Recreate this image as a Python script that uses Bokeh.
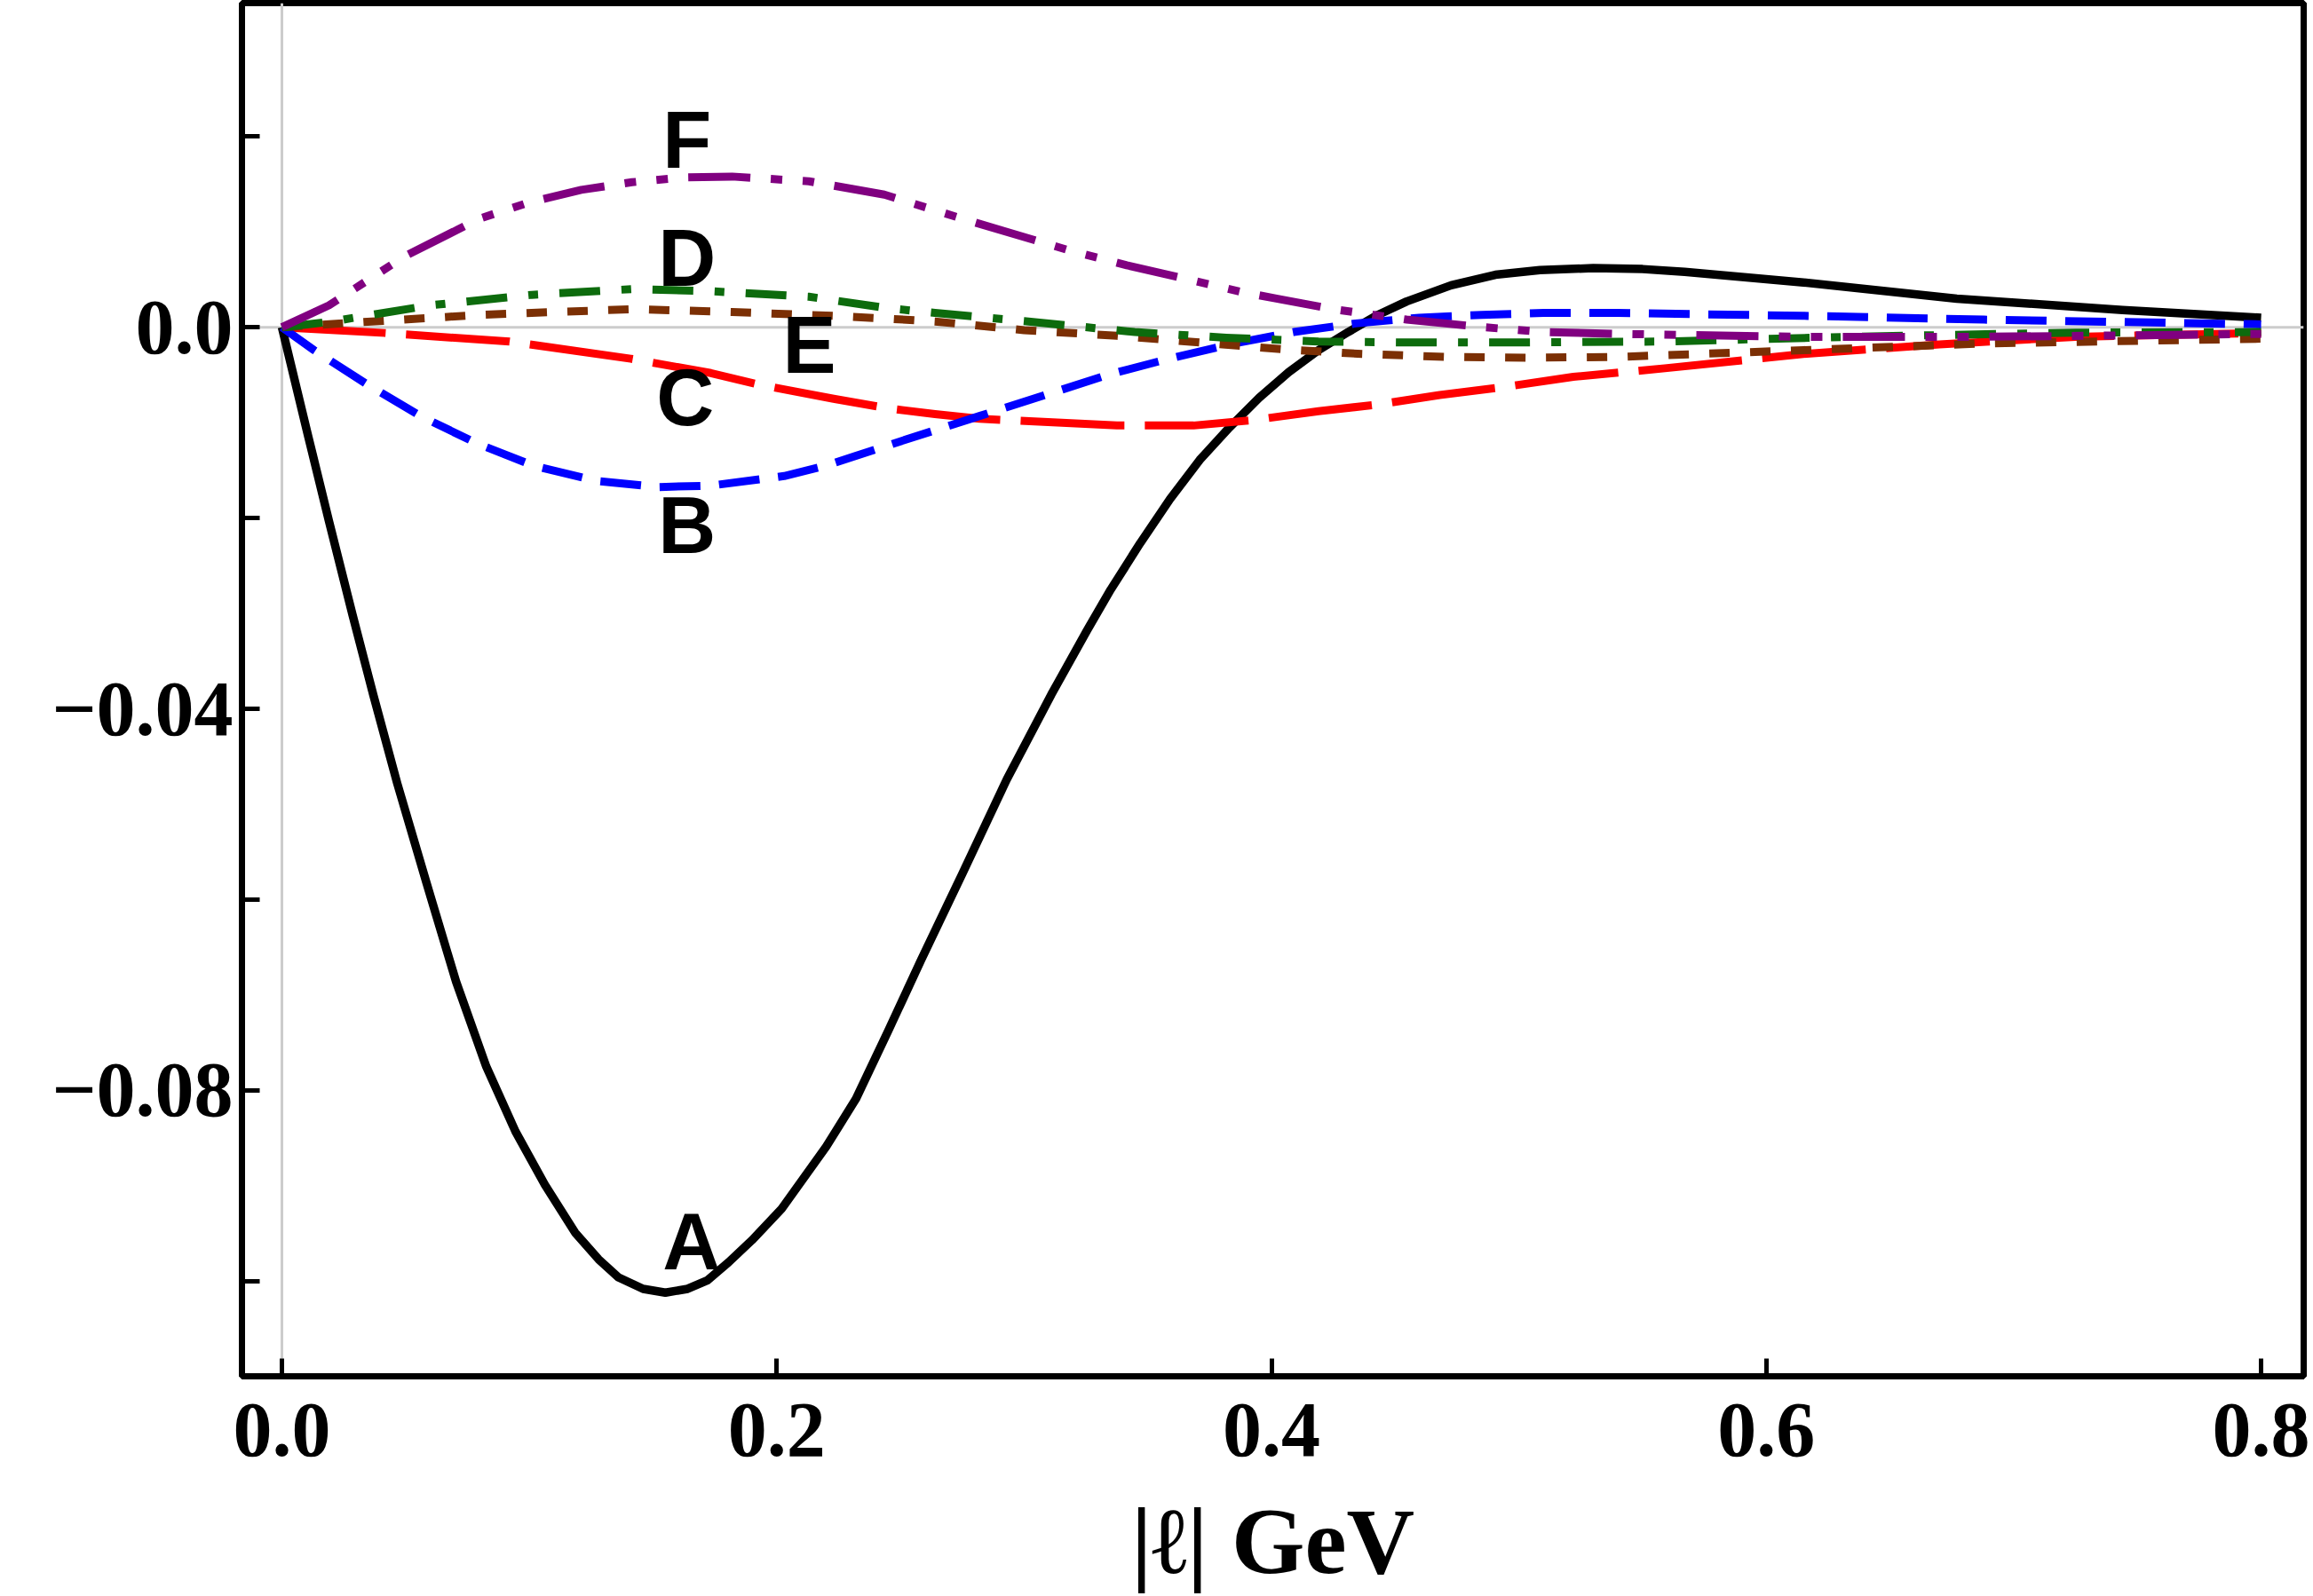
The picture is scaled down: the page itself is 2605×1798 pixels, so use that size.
from bokeh.plotting import figure
from bokeh.models import Range1d, FixedTicker, Span, ColumnDataSource
from bokeh.core.properties import value
from bokeh.embed import file_html
from bokeh.resources import INLINE

# ---------------- data ----------------
a_x = [0, 0.0107, 0.019, 0.0286, 0.037, 0.0466, 0.0585, 0.0704, 0.0826, 0.0944, 0.1063,
       0.1185, 0.128, 0.136, 0.146, 0.155, 0.164, 0.172, 0.1806, 0.19, 0.202, 0.22, 0.232, 0.245, 0.2584,
       0.275, 0.293, 0.311, 0.3254, 0.335, 0.347, 0.359, 0.371, 0.383, 0.395, 0.407, 0.419,
       0.431, 0.443, 0.4546, 0.4726, 0.4905, 0.5085, 0.53, 0.55, 0.567, 0.615, 0.677, 0.744, 0.8]
a_y = [0, -0.0115, -0.0203, -0.0302, -0.0386, -0.0478, -0.0583, -0.0686, -0.0775, -0.0843, -0.0899,
       -0.0949, -0.0977, -0.0996, -0.1008, -0.1012, -0.1008, -0.0999, -0.098, -0.0957, -0.0924, -0.0859, -0.0809,
       -0.0738, -0.0663, -0.0573, -0.0474, -0.0385, -0.0318, -0.0275, -0.0226, -0.018, -0.0139, -0.0105,
       -0.0074, -0.0047, -0.0024, -0.0005, 0.0013, 0.0027, 0.0044, 0.0055, 0.006, 0.0062, 0.0061, 0.0058,
       0.0047, 0.003, 0.0018, 0.001]

b_x = [0, 0.013, 0.0345, 0.056, 0.079, 0.1016, 0.1268, 0.152, 0.1734, 0.203, 0.22, 0.2435,
       0.282, 0.335, 0.36, 0.385, 0.409, 0.434, 0.4596, 0.485, 0.51, 0.54, 0.615, 0.688, 0.8]
b_y = [0, -0.0024, -0.006, -0.0093, -0.0122, -0.0145, -0.0161, -0.01675, -0.0166, -0.0156, -0.0145, -0.0125,
       -0.0093, -0.0049, -0.0032, -0.0017, -0.0005, 0.0004, 0.001, 0.0013, 0.0015, 0.0015, 0.0012, 0.0008, 0.0003]

c_x = [0, 0.0417, 0.092, 0.141, 0.1734, 0.1925, 0.223, 0.245, 0.264, 0.282, 0.3375, 0.3685,
       0.3936, 0.419, 0.443, 0.468, 0.493, 0.522, 0.559, 0.615, 0.67, 0.725, 0.8]
c_y = [0, -0.0006, -0.0015, -0.0033, -0.0048, -0.006, -0.0075, -0.0085, -0.0091, -0.0096, -0.0103, -0.0103,
       -0.0097, -0.0088, -0.0081, -0.0071, -0.0063, -0.0052, -0.0043, -0.0028, -0.0018, -0.001, -0.0006]

d_x = [0, 0.019, 0.06, 0.101, 0.1415, 0.172, 0.213, 0.245, 0.264, 0.3, 0.3447, 0.3817,
       0.419, 0.457, 0.494, 0.559, 0.633, 0.725, 0.8]
d_y = [0, 0.00056, 0.0023, 0.0034, 0.004, 0.0038, 0.0032, 0.002, 0.0015, 0.00065, -0.0005, -0.0011,
       -0.0015, -0.0016, -0.0016, -0.0015, -0.001, -0.00056, -0.0005]

e_x = [0, 0.0395, 0.08, 0.1415, 0.182, 0.223, 0.245, 0.264, 0.3, 0.3375, 0.371, 0.404,
       0.4366, 0.47, 0.504, 0.541, 0.615, 0.688, 0.8]
e_y = [0, 0.00065, 0.0013, 0.0019, 0.0016, 0.0012, 0.0009, 0.0006, -0.0003, -0.0009, -0.0016, -0.0023,
       -0.0028, -0.0031, -0.0032, -0.0031, -0.0024, -0.0017, -0.0012]

f_x = [0, 0.019, 0.05, 0.08, 0.1, 0.121, 0.1415, 0.162, 0.182, 0.213, 0.2435, 0.276, 0.319, 0.3415,
       0.365, 0.388, 0.402, 0.425, 0.4546, 0.486, 0.51, 0.541, 0.615, 0.688, 0.8]
f_y = [0, 0.0023, 0.0075, 0.0114, 0.0131, 0.0144, 0.0152, 0.0157, 0.0158, 0.0153, 0.0139, 0.0113, 0.008,
       0.0065, 0.0051, 0.0037, 0.003, 0.0019, 0.0008, 0.0, -0.0005, -0.0007, -0.001, -0.001, -0.0007]

curve_names = ["A", "B", "C", "D", "E", "F"]
label_x = [0.1655, 0.1637, 0.163, 0.1637, 0.2132, 0.1637]
label_y = [-0.0959, -0.0208, -0.0074, 0.0072, -0.0019, 0.0196]

x_ticks = [0.0, 0.2, 0.4, 0.6, 0.8]
x_tick_labels = ["0.0", "0.2", "0.4", "0.6", "0.8"]
y_ticks = [0.0, -0.04, -0.08]
y_tick_labels = ["0.0", "\u22120.04", "\u22120.08"]
y_minor_ticks = [0.02, -0.02, -0.06, -0.10]
x_label = "|\u2113| GeV"

# ---------------- figure ----------------
W, H = 2605, 1798
p = figure(width=W, height=H, output_backend="svg", toolbar_location=None,
           x_range=Range1d(-0.01615, 0.8172), y_range=Range1d(-0.10997, 0.03398),
           min_border_left=272, min_border_right=11, min_border_top=3, min_border_bottom=248)
p.background_fill_color = "white"
p.border_fill_color = "white"
p.grid.visible = False
p.outline_line_color = "black"
p.outline_line_width = 7

# zero axes (light gray)
p.add_layout(Span(location=0, dimension="height", line_color="#cccccc", line_width=3, level="underlay"))
p.add_layout(Span(location=0, dimension="width", line_color="#cccccc", line_width=3, level="underlay"))

series = [
    (a_x, a_y, "black", 9.5, "solid"),
    (c_x, c_y, "#ff0000", 9, "117 23"),
    (b_x, b_y, "#0000ff", 9, "46 21"),
    (e_x, e_y, "#7b2f04", 9, "23 23"),
    (d_x, d_y, "#0d6b0d", 9, "46 24 11 24"),
    (f_x, f_y, "#800080", 9, "70 23 13 23 13 23"),
]
for xs, ys, col, lw, dash in series:
    p.line(xs, ys, line_color=col, line_width=lw, line_dash=dash, line_join="round")

src = ColumnDataSource(dict(x=label_x, y=label_y, t=curve_names))
p.text(x="x", y="y", text="t", source=src, text_font=value("Liberation Sans"),
       text_font_style="bold", text_font_size="90px", text_align="center",
       text_baseline="alphabetic", text_color="black")

# axes
xa = p.xaxis[0]
xa.ticker = FixedTicker(ticks=x_ticks, minor_ticks=[])
xa.major_label_overrides = {t: s for t, s in zip(x_ticks, x_tick_labels)}
ya = p.yaxis[0]
ya.ticker = FixedTicker(ticks=y_ticks, minor_ticks=y_minor_ticks)
ya.major_label_overrides = {t: s for t, s in zip(y_ticks, y_tick_labels)}

for ax in (xa, ya):
    ax.axis_line_color = "black"
    ax.axis_line_width = 7
    ax.major_tick_in = 20
    ax.major_tick_out = 0
    ax.major_tick_line_width = 5
    ax.minor_tick_in = 20
    ax.minor_tick_out = 0
    ax.minor_tick_line_width = 5
    ax.major_label_text_font = "Liberation Serif"
    ax.major_label_text_font_style = "bold"
    ax.major_label_text_font_size = "88px"
    ax.major_label_text_color = "black"

xa.major_label_standoff = 31
ya.major_label_standoff = 10
xa.axis_label = x_label
xa.axis_label_text_font = "Liberation Serif"
xa.axis_label_text_font_style = "bold"
xa.axis_label_text_font_size = "106px"
xa.axis_label_text_color = "black"
xa.axis_label_standoff = 35

open("out.html", "w").write(file_html(p, INLINE))
